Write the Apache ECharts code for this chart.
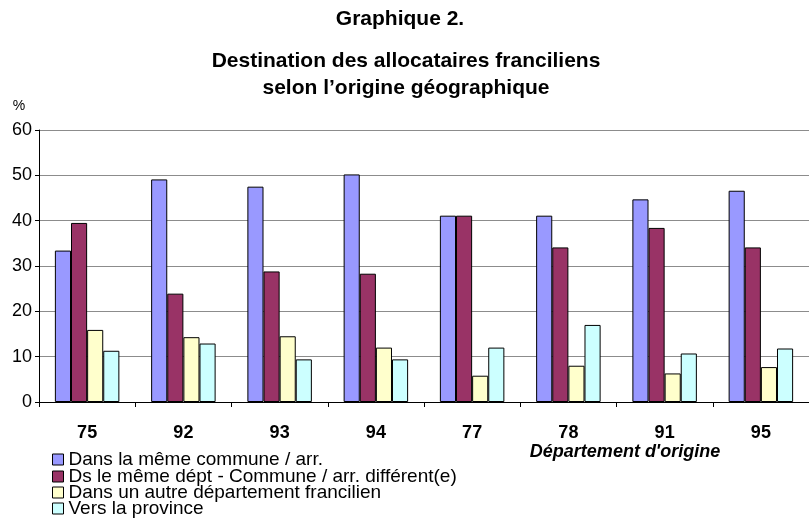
<!DOCTYPE html>
<html>
<head>
<meta charset="utf-8">
<script src="https://cdn.jsdelivr.net/npm/echarts@6/dist/echarts.min.js"></script>
<style>
html,body{margin:0;padding:0;background:#fff;}
#c{width:809px;height:519px;}
</style>
</head>
<body>
<div id="c"></div>
<script>
const categories = ['75','92','93','94','77','78','91','95'];
const seriesNames = [
  'Dans la même commune / arr.',
  'Ds le même dépt - Commune / arr. différent(e)',
  'Dans un autre département francilien',
  'Vers la province'
];
const sameCommune = [33.4, 49.1, 47.5, 50.2, 41.1, 41.1, 44.7, 46.6];
const sameDept    = [39.5, 23.9, 28.8, 28.3, 41.1, 34.1, 38.4, 34.1];
const otherDept   = [15.9, 14.3, 14.5, 12.0, 5.8, 8.0, 6.3, 7.7];
const province    = [11.3, 12.9, 9.4, 9.4, 12.0, 17.0, 10.7, 11.8];
const yTicks = [0, 10, 20, 30, 40, 50, 60];

const colors = ['#9999FF', '#993366', '#FFFFCC', '#CCFFFF'];
const values = [sameCommune, sameDept, otherDept, province];
const FONT = '"Liberation Sans", Arial, sans-serif';
const legendRowsY = [459, 476, 492, 508];

const chart = echarts.init(document.getElementById('c'), null, {renderer: 'canvas'});
chart.setOption({
  animation: false,
  backgroundColor: '#ffffff',
  textStyle: {fontFamily: FONT},
  graphic: [
    {type: 'text', x: 400, y: 19, style: {text: 'Graphique 2.', font: 'bold 21px ' + FONT, fill: '#000', align: 'center', verticalAlign: 'middle'}},
    {type: 'text', x: 406, y: 61, style: {text: 'Destination des allocataires franciliens', font: 'bold 21px ' + FONT, fill: '#000', align: 'center', verticalAlign: 'middle'}},
    {type: 'text', x: 406, y: 88, style: {text: 'selon l\u2019origine géographique', font: 'bold 21px ' + FONT, fill: '#000', align: 'center', verticalAlign: 'middle'}},
    {type: 'text', x: 19, y: 106, style: {text: '%', font: '14px ' + FONT, fill: '#000', align: 'center', verticalAlign: 'middle'}},
    {type: 'text', x: 625, y: 452, style: {text: 'Département d\'origine', font: 'italic bold 18px ' + FONT, fill: '#000', align: 'center', verticalAlign: 'middle'}}
  ],
  legend: seriesNames.map((n, i) => ({
    orient: 'vertical', left: 52, top: legendRowsY[i] - 9, padding: 0,
    itemWidth: 11, itemHeight: 11,
    icon: 'rect',
    textStyle: {fontFamily: FONT, fontSize: 19, color: '#000', lineHeight: 18},
    itemStyle: {borderColor: '#000', borderWidth: 1},
    data: [n]
  })),
  grid: {left: 39, top: 130, width: 778, height: 272, containLabel: false},
  xAxis: {
    type: 'category', data: categories,
    axisLine: {lineStyle: {color: '#000', width: 1}},
    axisTick: {show: true, length: 5, lineStyle: {color: '#000'}},
    axisLabel: {fontFamily: FONT, fontSize: 18, fontWeight: 'bold', color: '#000', margin: 22}
  },
  yAxis: {
    type: 'value', min: yTicks[0], max: yTicks[yTicks.length-1], interval: 10,
    axisLine: {show: true, lineStyle: {color: '#000', width: 1}},
    axisTick: {show: true, length: 4, lineStyle: {color: '#000'}},
    axisLabel: {fontFamily: FONT, fontSize: 18, color: '#000', margin: 7},
    splitLine: {lineStyle: {color: '#8c8c8c', width: 1}}
  },
  series: seriesNames.map((n, i) => ({
    name: n, type: 'bar', data: values[i],
    barGap: '0%', barCategoryGap: '33%',
    itemStyle: {color: colors[i], borderColor: '#000', borderWidth: 1}
  }))
});
</script>
</body>
</html>
